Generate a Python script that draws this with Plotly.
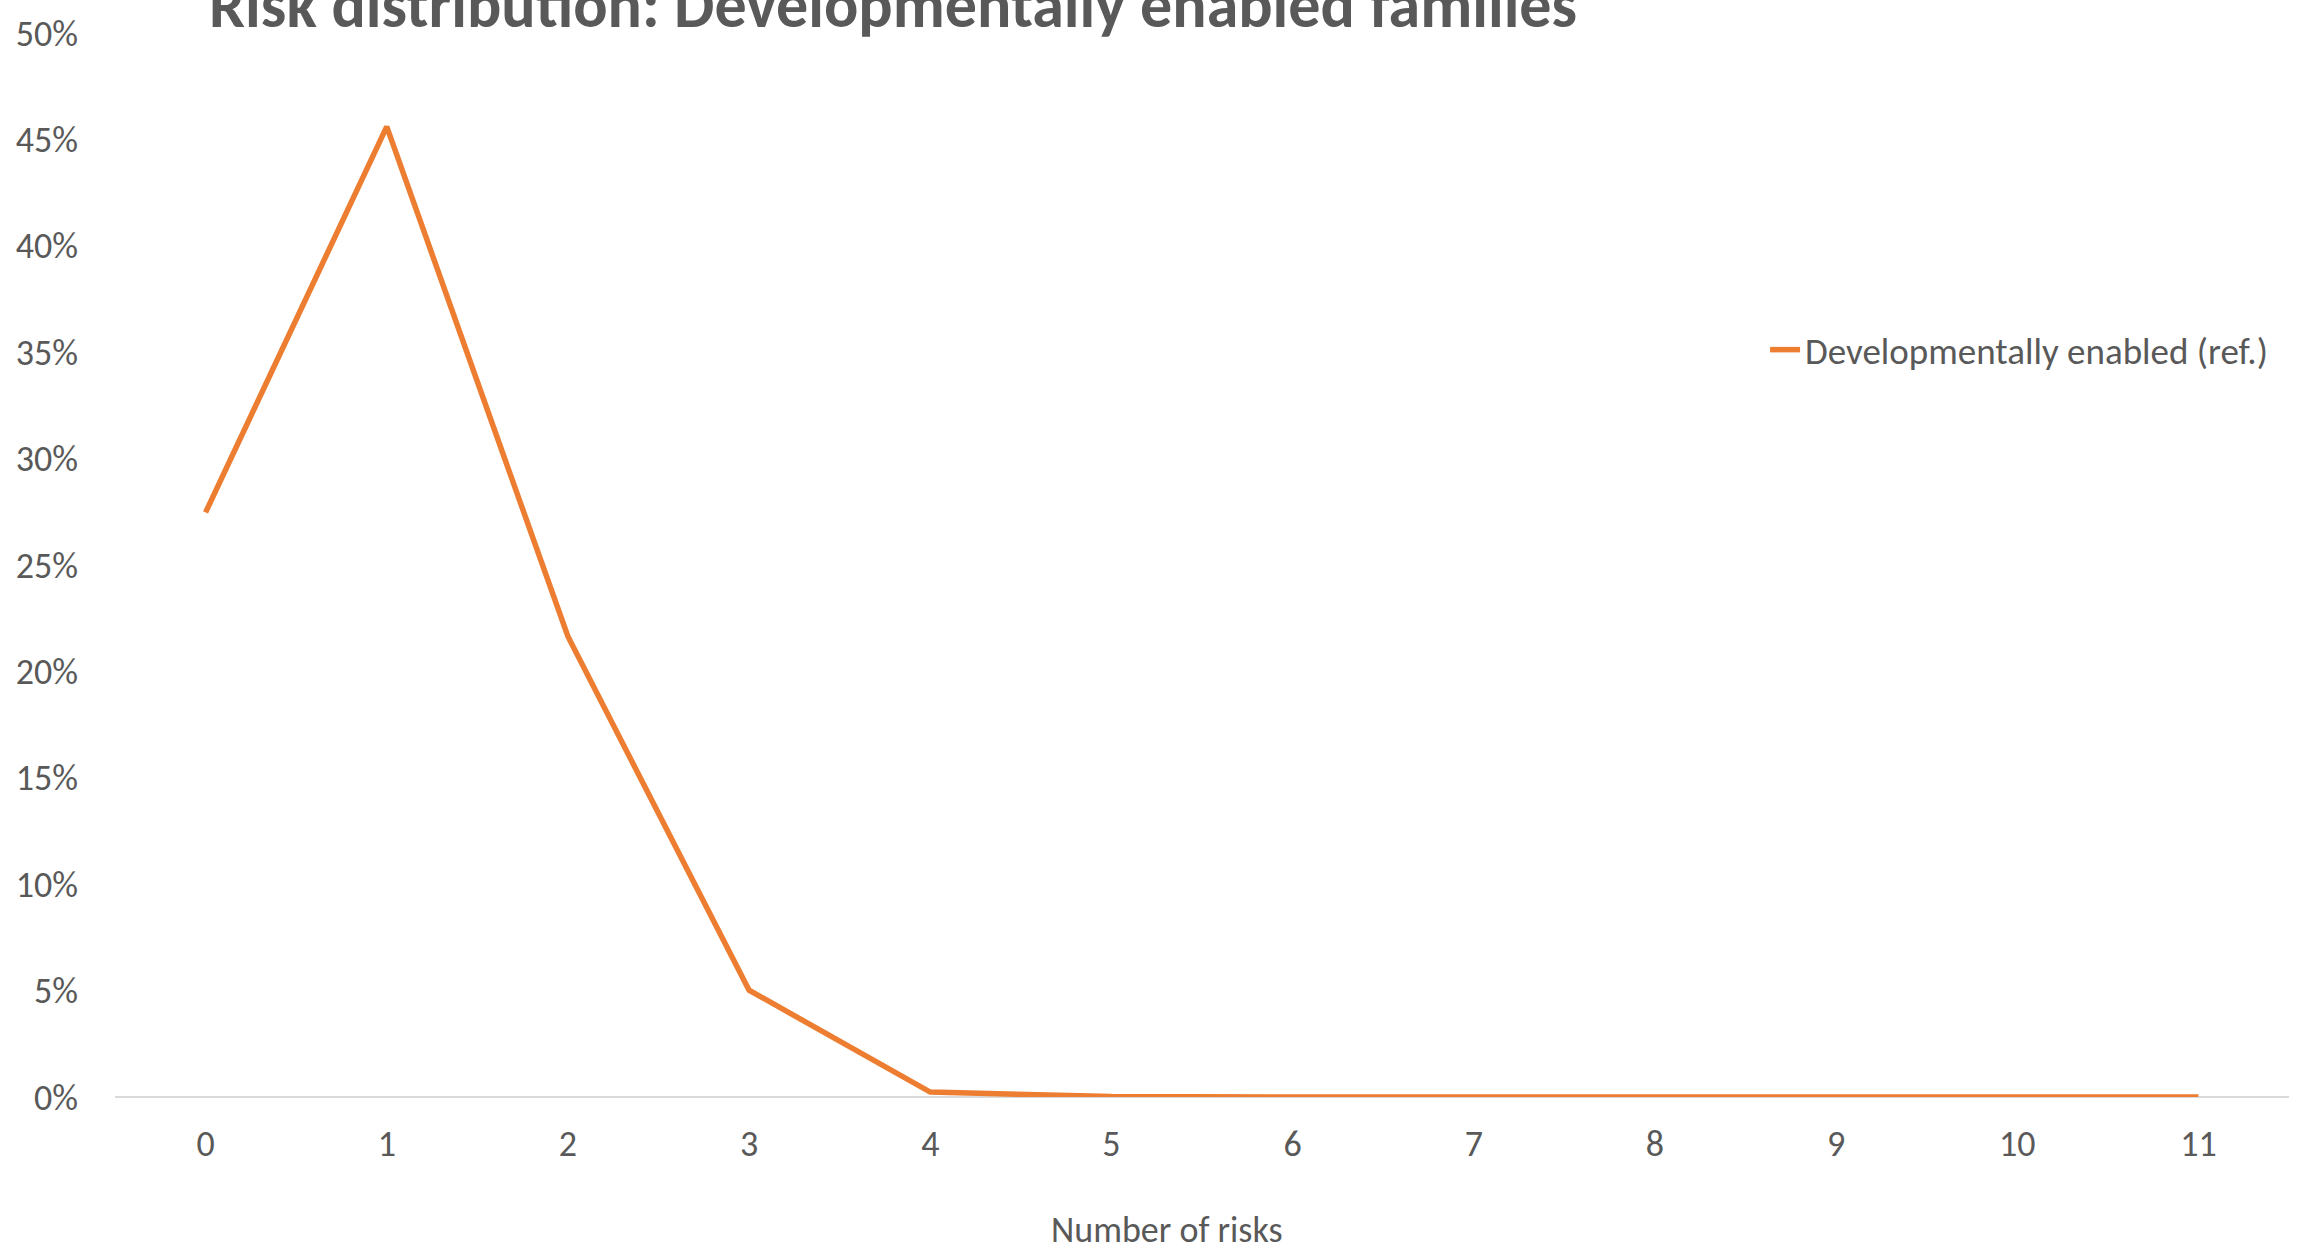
import plotly.graph_objects as go

categories = [0, 1, 2, 3, 4, 5, 6, 7, 8, 9, 10, 11]
values = [0.2747, 0.4560, 0.2164, 0.0502, 0.0023, 0.0002, 0.0, 0.0, 0.0, 0.0, 0.0, 0.0]
series_name = "Developmentally enabled (ref.)"
title_text = "Risk distribution: Developmentally enabled families"
x_title = "Number of risks"
y_ticks = [0, 0.05, 0.10, 0.15, 0.20, 0.25, 0.30, 0.35, 0.40, 0.45, 0.50]

FONT = "Carlito, Calibri, Lato, sans-serif"
GREY = "#595959"
ORANGE = "#ED7D31"

fig = go.Figure()
fig.add_trace(go.Scatter(
    x=categories, y=values, mode="lines", name=series_name,
    line=dict(color=ORANGE, width=5.5),
))

fig.update_layout(
    width=2308, height=1256,
    margin=dict(l=115, r=19, t=25, b=159),
    paper_bgcolor="white", plot_bgcolor="white",
    font=dict(family=FONT, color=GREY, size=36),
    showlegend=True,
    legend=dict(x=0.759, y=0.702, xanchor="left", yanchor="middle",
                font=dict(size=37, color=GREY), bgcolor="rgba(0,0,0,0)"),
    xaxis=dict(
        range=[-0.5, 11.5], tickmode="array", tickvals=categories,
        ticktext=[str(c) for c in categories],
        showgrid=False, zeroline=False, showline=False,
        ticks="", ticklabelstandoff=22,
        tickfont=dict(size=36, color=GREY),
    ),
    yaxis=dict(
        range=[0, 0.5], tickmode="array", tickvals=y_ticks,
        tickformat=".0%", showgrid=False, zeroline=True,
        zerolinecolor="#D9D9D9", zerolinewidth=2, showline=False,
        ticks="", ticklabelstandoff=36,
        tickfont=dict(size=36, color=GREY),
    ),
    annotations=[
        dict(text="<b>" + title_text + "</b>", xref="paper", yref="paper",
             x=0.358, y=1, xanchor="center", yanchor="bottom", yshift=-13,
             showarrow=False, font=dict(size=64, color=GREY, family=FONT)),
        dict(text=x_title, xref="paper", yref="paper",
             x=0.484, y=0, xanchor="center", yanchor="bottom", yshift=-157,
             showarrow=False, font=dict(size=36, color=GREY, family=FONT)),
    ],
)

fig.write_html(
    "out.html",
    config={"displayModeBar": False},
    post_script="document.body.style.margin='0';document.documentElement.style.overflow='hidden';",
)
